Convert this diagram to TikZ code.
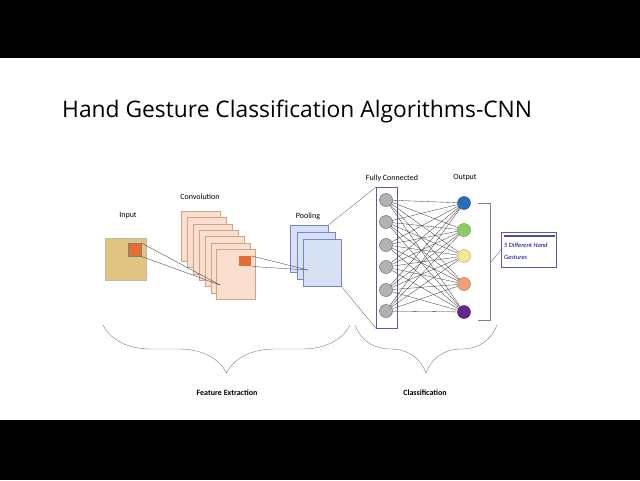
\documentclass[tikz,border=0pt]{standalone}
\usepackage{fontspec}
\setmainfont{Carlito}
\newfontfamily\titlefont{Open Sans}
\usetikzlibrary{positioning,decorations.pathreplacing}
\definecolor{tan}{RGB}{226,196,130}
\definecolor{convpink}{RGB}{250,222,208}
\definecolor{poolblue}{RGB}{214,226,244}
\definecolor{patch}{RGB}{228,110,50}
\definecolor{outA}{RGB}{40,110,190}
\definecolor{outB}{RGB}{140,205,100}
\definecolor{outC}{RGB}{250,230,140}
\definecolor{outD}{RGB}{240,160,120}
\definecolor{outE}{RGB}{100,40,140}
\begin{document}
\begin{tikzpicture}[x=1pt,y=-1pt,
  lbl/.style={font=\fontsize{8}{9}\selectfont},
  sheet/.style={draw=#1!60!black!50,line width=0.4pt,anchor=north west,inner sep=0},
  fc/.style={circle,draw=gray!70!black,fill=gray!60,minimum size=13pt,inner sep=0},
  out/.style={circle,draw=#1!70!black,fill=#1,minimum size=13pt,inner sep=0},
  wire/.style={line width=0.3pt,black!80}]
% background bands
\fill[black] (0,0) rectangle (640,58);
\fill[white] (0,58) rectangle (640,420);
\fill[black] (0,420) rectangle (640,480);
\useasboundingbox (0,0) rectangle (640,480);
\node[anchor=west,font=\titlefont\fontsize{22.8}{26}\selectfont,inner sep=0] (title) at (62,112) {Hand Gesture Classification Algorithms-CNN};

% Input
\node[sheet=tan,fill=tan,minimum width=41pt,minimum height=42pt] (in) at (105,238) {};
\node[anchor=north west,draw=gray,fill=patch,minimum size=13pt,inner sep=0] (inpatch) at (128,243) {};
\node[lbl] at (128,216) {Input};

% Convolution
\foreach \i in {0,...,6}
  \node[sheet=orange,fill=convpink,minimum width=39pt,minimum height=50pt] (conv\i) at (181+5.9*\i,211+6.3*\i) {};
\node[anchor=north west,fill=patch,minimum width=12pt,minimum height=10pt,inner sep=0] (convpatch) at (239,256) {};
\node[lbl] at (200,197) {Convolution};
\coordinate (convhit) at (220,285);
\draw[wire] (inpatch.north east) -- (convhit);
\draw[wire] (inpatch.south east) -- (convhit);

% Pooling
\foreach \i in {0,1,2}
  \node[sheet=blue,fill=poolblue,minimum width=38pt,minimum height=47pt] (pool\i) at (290+6.5*\i,225+7*\i) {};
\node[lbl] at (308,216) {Pooling};
\coordinate (poolhit) at (308,270);
\draw[wire] (convpatch.north east) -- (poolhit);
\draw[wire] (convpatch.south east) -- (poolhit);

% Fully connected
\node[draw=blue!30!gray,anchor=north west,minimum width=21pt,minimum height=141pt,inner sep=0] (fcbox) at (376,187) {};
\node[lbl] at (392,178) {Fully Connected};
\draw[wire,gray!70!black] (pool0.north east) -- (fcbox.north west);
\draw[wire,gray!70!black] (pool2.south east) -- (fcbox.south west);
\foreach \y [count=\k] in {200,222,245,267,290,311}
  \node[fc] (h\k) at (386,\y) {};

% Output
\foreach \y/\c [count=\k] in {203/outA,230/outB,256/outC,284/outD,312/outE}
  \node[out=\c] (o\k) at (464,\y) {};
\node[lbl] at (465,178) {Output};
\foreach \a in {1,...,6}
  \foreach \b in {1,...,5}
    \draw[wire] (h\a) -- (o\b);

% gestures bracket
\draw[gray,line width=0.5pt] (478,203) -- (490,203) -- (490,320) -- (478,320);
\node[draw=blue!30!gray,anchor=north west,minimum width=55pt,minimum height=35pt,inner sep=0] (gbox) at (501,232) {};
\draw[gray,line width=0.5pt] (490,263) -- (gbox.west);
\draw[blue!50!black!70,line width=1.6pt] ([xshift=3pt,yshift=-4pt]gbox.north west) -- ([xshift=-1pt,yshift=-4pt]gbox.north east);
\node[anchor=north west,align=left,text=blue!60!black,font=\itshape\fontsize{6.5}{12}\selectfont,inner sep=0] at (504,243) {5 Different Hand\\Gestures};

% stage braces
\draw[gray,line width=0.4pt,decorate,decoration={brace,mirror,amplitude=48pt}] (103,325) -- (350,325);
\draw[gray,line width=0.4pt,decorate,decoration={brace,mirror,amplitude=48pt}] (355,325) -- (497,325);
\node[lbl,font=\bfseries\fontsize{8}{9}\selectfont] (fe) at (227,393) {Feature Extraction};
\node[lbl,font=\bfseries\fontsize{8}{9}\selectfont] (cl) at (425,393) {Classification};
\end{tikzpicture}
\end{document}
